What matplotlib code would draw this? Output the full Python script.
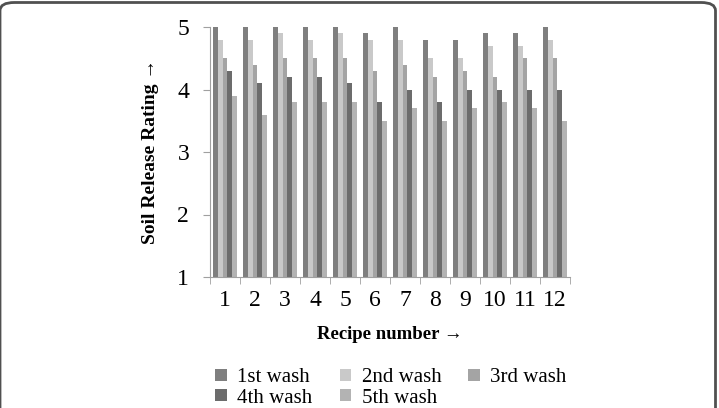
import matplotlib.pyplot as plt
import numpy as np
from matplotlib.patches import FancyBboxPatch

recipes = [str(i) for i in range(1, 13)]
wash_labels = ["1st wash", "2nd wash", "3rd wash", "4th wash", "5th wash"]
wash1 = [5.0, 5.0, 5.0, 5.0, 5.0, 4.9, 5.0, 4.8, 4.8, 4.9, 4.9, 5.0]
wash2 = [4.8, 4.8, 4.9, 4.8, 4.9, 4.8, 4.8, 4.5, 4.5, 4.7, 4.7, 4.8]
wash3 = [4.5, 4.4, 4.5, 4.5, 4.5, 4.3, 4.4, 4.2, 4.3, 4.2, 4.5, 4.5]
wash4 = [4.3, 4.1, 4.2, 4.2, 4.1, 3.8, 4.0, 3.8, 4.0, 4.0, 4.0, 4.0]
wash5 = [3.9, 3.6, 3.8, 3.8, 3.8, 3.5, 3.7, 3.5, 3.7, 3.8, 3.7, 3.5]
colors = ["#7f7f7f", "#c9c9c9", "#a4a4a4", "#6c6c6c", "#b3b3b3"]

plt.rcParams["font.family"] = ["Liberation Serif", "DejaVu Serif"]

fig = plt.figure(figsize=(7.19, 4.08), dpi=100)
ax = fig.add_axes([210 / 719, 1 - 277 / 408, 360 / 719, 250 / 408])

x = np.arange(1, 13)
width = 0.16
series = [wash1, wash2, wash3, wash4, wash5]
bars = []
for i, (vals, lab, col) in enumerate(zip(series, wash_labels, colors)):
    b = ax.bar(x + (i - 2) * width, vals, width, color=col, label=lab, linewidth=0)
    bars.append(b)

ax.set_xlim(0.5, 12.5)
ax.set_ylim(1, 5)
ax.set_yticks([1, 2, 3, 4, 5])
ax.set_xticks(x)
ax.set_xticklabels(recipes)
ax.set_xticks(np.arange(0.5, 13, 1), minor=True)
ax.tick_params(axis="x", which="major", length=0, labelsize=17, pad=9)
ax.tick_params(axis="x", which="minor", length=5, color="#a0a0a0")
ax.tick_params(axis="y", length=5, color="#a0a0a0", labelsize=17, pad=10)
for s in ["top", "right"]:
    ax.spines[s].set_visible(False)
for s in ["left", "bottom"]:
    ax.spines[s].set_color("#a0a0a0")

ax.set_xlabel("Recipe number \u2192", fontsize=13.5, fontweight="bold", labelpad=11)
ax.set_ylabel("Soil Release Rating \u2192", fontsize=14, fontweight="bold", labelpad=13)

order = [0, 3, 1, 4, 2]
fig.legend([bars[i] for i in order], [wash_labels[i] for i in order],
           ncol=3, loc="center", bbox_to_anchor=(391 / 719, 1 - 388 / 408),
           frameon=False, fontsize=15, handlelength=0.55, handleheight=0.55,
           handletextpad=0.5, columnspacing=1.3, labelspacing=0.05)

frame = FancyBboxPatch((0.0, -0.2), 715.5 / 719, 1.2 - 2.5 / 408,
                       boxstyle="round,pad=0,rounding_size=0.02",
                       transform=fig.transFigure, fill=False,
                       edgecolor="#505050", linewidth=2, clip_on=False)
fig.patches.append(frame)

fig.savefig("out.png", dpi=100)
